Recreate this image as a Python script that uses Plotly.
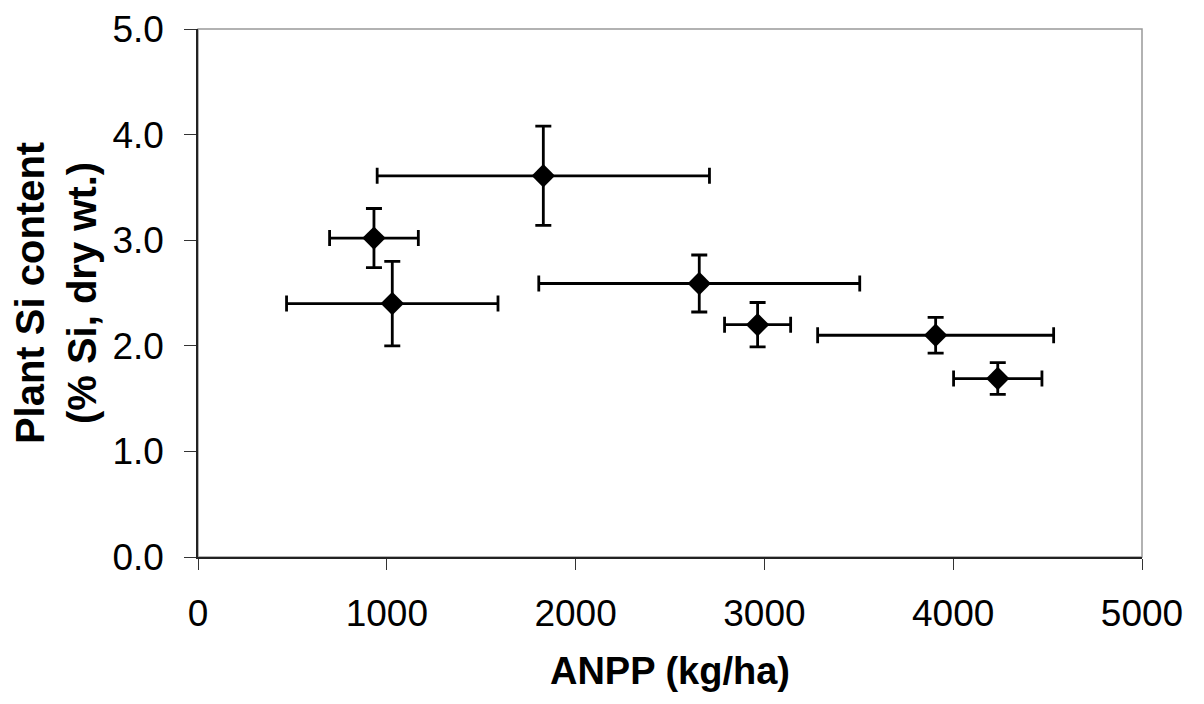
import plotly.graph_objects as go

anpp = [932, 1029, 1829, 2655, 2964, 3907, 4236]
si = [3.02, 2.40, 3.61, 2.59, 2.20, 2.10, 1.69]
anpp_err = [235, 560, 880, 850, 175, 625, 234]
si_err = [0.28, 0.40, 0.47, 0.27, 0.21, 0.17, 0.15]

x_ticks = [0, 1000, 2000, 3000, 4000, 5000]
y_ticks = [0.0, 1.0, 2.0, 3.0, 4.0, 5.0]

fig = go.Figure()
fig.add_trace(go.Scatter(
    x=anpp, y=si, mode="markers",
    marker=dict(symbol="diamond", size=18, color="black"),
    error_x=dict(type="data", array=anpp_err, color="black", thickness=2.8, width=8),
    error_y=dict(type="data", array=si_err, color="black", thickness=2.8, width=8),
    showlegend=False,
))

font_fam = "Liberation Sans, Arial, sans-serif"
fig.update_layout(
    width=1204, height=704,
    margin=dict(l=190, r=70, t=21, b=155),
    paper_bgcolor="white", plot_bgcolor="white",
    font=dict(family=font_fam, color="black"),
    xaxis=dict(
        range=[0, 5000], tickvals=x_ticks, ticktext=[str(v) for v in x_ticks],
        automargin=False, ticklabeloverflow="allow",
        showgrid=False, zeroline=False, showline=True, linecolor="#222", linewidth=1.5,
        ticks="outside", ticklen=11, tickwidth=1, tickcolor="#333",
        ticklabelstandoff=12,
        tickfont=dict(size=37, family=font_fam),
        title=dict(text="<b>ANPP (kg/ha)</b>", font=dict(size=38, family=font_fam), standoff=24),
    ),
    yaxis=dict(
        range=[0, 5], tickvals=y_ticks, ticktext=[f"{v:.1f}" for v in y_ticks],
        automargin=False, ticklabeloverflow="allow",
        showgrid=False, zeroline=False, showline=True, linecolor="#222", linewidth=1.5,
        ticks="outside", ticklen=12, tickwidth=1, tickcolor="#333",
        ticklabelstandoff=13,
        tickfont=dict(size=37, family=font_fam),
        title=dict(text="<b>Plant Si content<br>(% Si, dry wt.)</b>", font=dict(size=40, family=font_fam), standoff=4),
    ),
    shapes=[dict(type="rect", xref="paper", yref="paper", x0=0, y0=0, x1=1, y1=1,
                 line=dict(color="#999", width=1.5), layer="below")],
)

fig.write_html("out.html")
